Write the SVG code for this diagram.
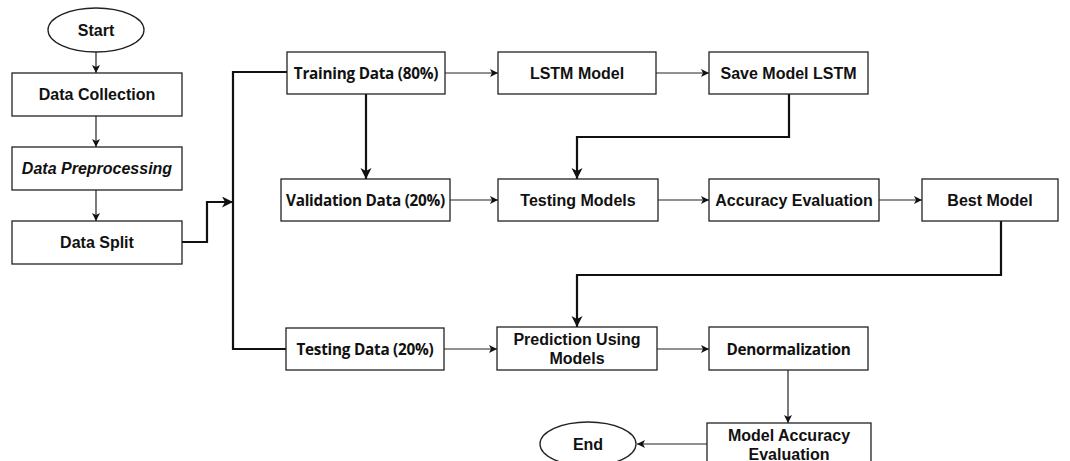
<svg xmlns="http://www.w3.org/2000/svg" width="1070" height="461" viewBox="0 0 1070 461">
  <defs>
    <marker id="arr" markerUnits="userSpaceOnUse" markerWidth="10" markerHeight="10" refX="8" refY="4" orient="auto">
      <path d="M0,0 L8,4 L0,8 L2,4 z" fill="#111"/>
    </marker>
    <marker id="arrBig" markerUnits="userSpaceOnUse" markerWidth="14" markerHeight="14" refX="11" refY="5.5" orient="auto">
      <path d="M0,0 L11,5.5 L0,11 L3,5.5 z" fill="#111"/>
    </marker>
  </defs>
  <style>
    .box { fill: #fff; stroke: #222; stroke-width: 1.3; }
    .lbl { font-family: "Liberation Sans", Arial, sans-serif; font-weight: bold; font-size: 16px; fill: #111; text-anchor: middle; dominant-baseline: central; }
    .alt { font-family: "Open Sans", "Liberation Sans", sans-serif; font-weight: 700; font-size: 15.3px; letter-spacing: -0.25px; }
    .it { font-style: italic; }
    .thin { fill: none; stroke: #222; stroke-width: 1.2; marker-end: url(#arr); }
    .thick { fill: none; stroke: #111; stroke-width: 2.2; }
    .thickArr { marker-end: url(#arrBig); }
  </style>
  <rect width="1070" height="461" fill="#fff"/>

  <g id="connectors">
    <path class="thin" d="M96,52 V73"/>
    <path class="thin" d="M96,116 V147"/>
    <path class="thin" d="M96,190 V221"/>
    <path class="thick thickArr" d="M182,242 H207 V202 H233"/>
    <path class="thick" d="M287,72 H233 V349 H286"/>
    <path class="thin" d="M445,73 H498"/>
    <path class="thin" d="M656,73 H709"/>
    <path class="thick thickArr" d="M366,94 V179"/>
    <path class="thick thickArr" d="M789,94 V137 H577 V179"/>
    <path class="thin" d="M450,200 H498"/>
    <path class="thin" d="M658,200 H709"/>
    <path class="thin" d="M879,200 H922"/>
    <path class="thick thickArr" d="M1001,221 V275 H577 V327"/>
    <path class="thin" d="M444,349 H497"/>
    <path class="thin" d="M657,349 H709"/>
    <path class="thin" d="M788,370 V423"/>
    <path class="thin" d="M707,444 H637"/>
  </g>

  <g id="start">
    <ellipse class="box" cx="96" cy="30" rx="48" ry="22"/>
    <text class="lbl" x="96" y="30">Start</text>
  </g>
  <g id="data-collection">
    <rect class="box" x="12" y="73" width="170" height="43"/>
    <text class="lbl" x="97" y="94.5">Data Collection</text>
  </g>
  <g id="data-preprocessing">
    <rect class="box" x="12" y="147" width="170" height="43"/>
    <text class="lbl it" x="97" y="168.5">Data Preprocessing</text>
  </g>
  <g id="data-split">
    <rect class="box" x="12" y="221" width="170" height="43"/>
    <text class="lbl" x="97" y="242.5">Data Split</text>
  </g>

  <g id="training-data">
    <rect class="box" x="287" y="52" width="158" height="42"/>
    <text class="lbl alt" x="366" y="73">Training Data (80%)</text>
  </g>
  <g id="lstm-model">
    <rect class="box" x="498" y="52" width="158" height="42"/>
    <text class="lbl" x="577" y="73">LSTM Model</text>
  </g>
  <g id="save-model">
    <rect class="box" x="709" y="52" width="159" height="42"/>
    <text class="lbl" x="788.5" y="73">Save Model LSTM</text>
  </g>

  <g id="validation-data">
    <rect class="box" x="281" y="179" width="169" height="42"/>
    <text class="lbl alt" x="365.5" y="200">Validation Data (20%)</text>
  </g>
  <g id="testing-models">
    <rect class="box" x="498" y="179" width="160" height="42"/>
    <text class="lbl" x="578" y="200">Testing Models</text>
  </g>
  <g id="accuracy-evaluation">
    <rect class="box" x="709" y="179" width="170" height="42"/>
    <text class="lbl" x="794" y="200">Accuracy Evaluation</text>
  </g>
  <g id="best-model">
    <rect class="box" x="922" y="179" width="136" height="42"/>
    <text class="lbl" x="990" y="200">Best Model</text>
  </g>

  <g id="testing-data">
    <rect class="box" x="286" y="328" width="158" height="42"/>
    <text class="lbl alt" x="365" y="349">Testing Data (20%)</text>
  </g>
  <g id="prediction">
    <rect class="box" x="497" y="327" width="160" height="43"/>
    <text class="lbl" x="577" y="339">Prediction Using</text>
    <text class="lbl" x="577" y="358">Models</text>
  </g>
  <g id="denormalization">
    <rect class="box" x="709" y="327" width="159" height="43"/>
    <text class="lbl alt" x="788.5" y="348.5">Denormalization</text>
  </g>

  <g id="model-accuracy-evaluation">
    <rect class="box" x="707" y="423" width="164" height="43"/>
    <text class="lbl" x="789" y="435">Model Accuracy</text>
    <text class="lbl" x="789" y="454">Evaluation</text>
  </g>
  <g id="end">
    <ellipse class="box" cx="588" cy="444" rx="48" ry="22"/>
    <text class="lbl" x="588" y="444">End</text>
  </g>
</svg>
